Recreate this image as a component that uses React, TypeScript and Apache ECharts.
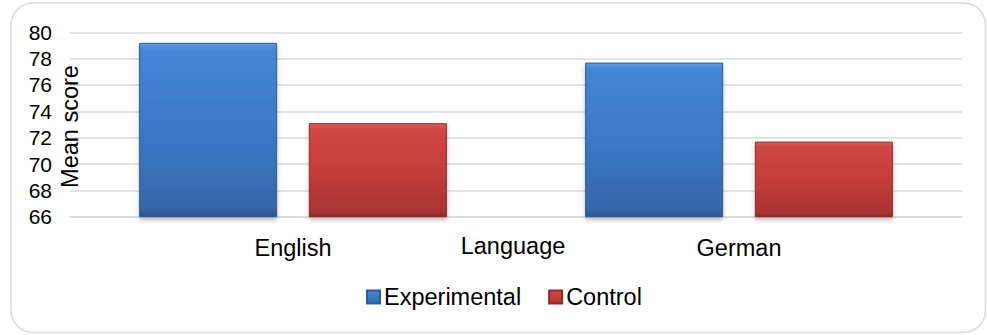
import React, { useEffect, useRef } from "react";
import * as echarts from "echarts";

const categories = ["English", "German"];
const experimental = [79.2, 77.7];
const control = [73.1, 71.7];
const yTicks = { min: 66, max: 80, interval: 2 };
const seriesNames = ["Experimental", "Control"];
const xAxisTitle = "Language";
const yAxisTitle = "Mean score";
const FONT = "'Liberation Sans', Arial, sans-serif";

const blueGrad = () =>
  new echarts.graphic.LinearGradient(0, 0, 0, 1, [
    { offset: 0, color: "#5d9be4" },
    { offset: 0.04, color: "#4485d6" },
    { offset: 0.5, color: "#3b79c8" },
    { offset: 0.95, color: "#3567ab" },
    { offset: 1, color: "#2a5690" },
  ]);
const redGrad = () =>
  new echarts.graphic.LinearGradient(0, 0, 0, 1, [
    { offset: 0, color: "#e2605d" },
    { offset: 0.06, color: "#cf4744" },
    { offset: 0.5, color: "#c53d3a" },
    { offset: 0.95, color: "#a83330" },
    { offset: 1, color: "#8a2826" },
  ]);

export default function App() {
  const ref = useRef<HTMLDivElement>(null);
  useEffect(() => {
    if (!ref.current) return;
    const chart = echarts.init(ref.current, undefined, { renderer: "svg" });
    chart.setOption({
      animation: false,
      backgroundColor: "#ffffff",
      textStyle: { fontFamily: FONT },
      grid: { left: 70, right: 25, top: 32.3, bottom: 118.3, containLabel: false },
      graphic: [
        {
          type: "rect",
          shape: { x: 11, y: 3, width: 974.5, height: 329.5, r: 22 },
          style: { fill: "none", stroke: "#d9d9d9", lineWidth: 1.5 },
          silent: true,
          z: 0,
        },
        {
          type: "text",
          x: 69.5,
          y: 126.5,
          rotation: Math.PI / 2,
          style: {
            text: yAxisTitle,
            fontSize: 23.5,
            fontFamily: FONT,
            fill: "#000000",
            align: "center",
            verticalAlign: "middle",
          },
          z: 10,
        },
        {
          type: "text",
          x: 513,
          y: 246,
          style: {
            text: xAxisTitle,
            fontSize: 23.5,
            fontFamily: FONT,
            fill: "#000000",
            align: "center",
            verticalAlign: "middle",
          },
          z: 10,
        },
      ],
      legend: {
        left: 361,
        top: 280,
        itemWidth: 13,
        itemHeight: 13,
        itemGap: 27,
        icon: "rect",
        textStyle: { fontSize: 23.5, color: "#000", fontFamily: FONT, padding: [0, 0, 0, -1] },
        data: seriesNames,
      },
      xAxis: {
        type: "category",
        data: categories,
        axisLine: { show: true, lineStyle: { color: "#d9d9d9", width: 1.5 } },
        axisTick: { show: false },
        axisLabel: { fontSize: 23.5, color: "#000", margin: 19, fontFamily: FONT },
      },
      yAxis: {
        type: "value",
        min: yTicks.min,
        max: yTicks.max,
        interval: yTicks.interval,
        axisLine: { show: false },
        axisTick: { show: false },
        axisLabel: { fontSize: 21, color: "#000", margin: 18, fontFamily: FONT },
        splitLine: { lineStyle: { color: "#d9d9d9", width: 1.5 } },
      },
      series: [
        {
          name: seriesNames[0],
          type: "bar",
          data: experimental,
          barGap: "23%",
          barCategoryGap: "31%",
          itemStyle: {
            color: blueGrad(),
            borderColor: "#2d5b96",
            borderWidth: 1,
            shadowBlur: 4,
            shadowOffsetY: 3,
            shadowColor: "rgba(0,0,0,0.25)",
          },
        },
        {
          name: seriesNames[1],
          type: "bar",
          data: control,
          barGap: "23%",
          barCategoryGap: "31%",
          itemStyle: {
            color: redGrad(),
            borderColor: "#8f2a28",
            borderWidth: 1,
            shadowBlur: 4,
            shadowOffsetY: 3,
            shadowColor: "rgba(0,0,0,0.25)",
          },
        },
      ],
    });
    return () => chart.dispose();
  }, []);
  return (
    <div
      ref={ref}
      style={{ position: "absolute", left: 0, top: 0, width: 987, height: 335 }}
    />
  );
}
